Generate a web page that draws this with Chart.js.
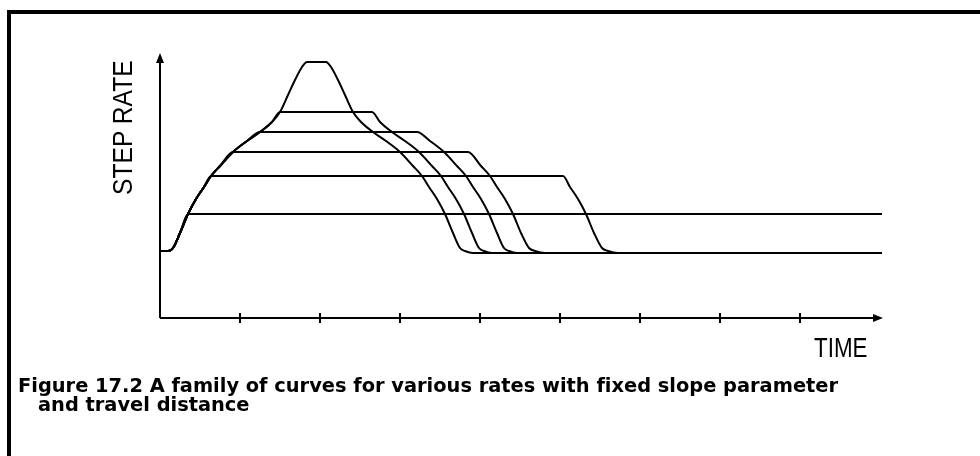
<!DOCTYPE html>
<html>
<head>
<meta charset="utf-8">
<script src="https://cdn.jsdelivr.net/npm/chart.js@4/dist/chart.umd.min.js"></script>
<style>
  body { margin: 0; background: #fff; }
  #wrap { position: relative; width: 980px; height: 456px; overflow: hidden; background: #fff; }
  #frame { position: absolute; left: 7px; top: 10px; width: 980px; height: 460px;
           border-top: 4px solid #000; border-left: 4px solid #000; }
  canvas { position: absolute; left: 0; top: 0; }
  .lbl { position: absolute; left: 0; top: 0; font-family: "Liberation Sans", Arial, sans-serif;
         font-size: 28px; line-height: 28px; white-space: nowrap; color: #000; transform-origin: 0 0; }
  .cap { position: absolute; font-family: "DejaVu Sans", sans-serif; font-weight: bold;
         font-size: 19.4px; line-height: 19px; white-space: nowrap; color: #000;
         font-variant-ligatures: none; }
</style>
</head>
<body>
<div id="wrap">
  <div id="frame"></div>
  <canvas id="chart" width="980" height="456"></canvas>
  <div class="lbl" style="transform: translate(109px,195px) rotate(-90deg) scaleX(0.88);">STEP RATE</div>
  <div class="lbl" style="transform: translate(814px,334px) scaleX(0.8);">TIME</div>
  <div class="cap" style="left:18px; top:376px;">Figure 17.2 A family of curves for various rates with fixed slope parameter</div>
  <div class="cap" style="left:38px; top:395px;">and travel distance</div>
</div>
<script>
// common acceleration curve (time, step rate)
const accelT = [0, 8, 13, 20, 28, 36, 44, 51, 60, 73, 87, 100, 112, 120, 128, 135, 142, 147];
const accelR = [67, 67, 70, 85, 104, 119, 131, 142, 152, 166, 177, 186, 196, 206, 223, 238, 251, 256];

// top speed of each curve
const levels = [256, 206, 186, 166, 142, 104];

// deceleration part of each curve (starts at the end of its flat run)
const decelT1 = [166, 171, 178, 185, 193, 201, 213, 226, 240, 253, 262, 269, 277, 285, 293, 300, 305, 313];
const decelR1 = [256, 251, 238, 223, 206, 196, 186, 177, 166, 152, 142, 131, 119, 104, 85, 70, 67, 65];
const decelT2 = [212, 220, 232, 245, 259, 272, 281, 288, 296, 304, 312, 319, 324, 332];
const decelR2 = [206, 196, 186, 177, 166, 152, 142, 131, 119, 104, 85, 70, 67, 65];
const decelT3 = [257, 270, 284, 297, 306, 313, 321, 329, 337, 344, 349, 357];
const decelR3 = [186, 177, 166, 152, 142, 131, 119, 104, 85, 70, 67, 65];
const decelT4 = [308, 321, 330, 337, 345, 353, 361, 369, 375, 385];
const decelR4 = [166, 152, 142, 131, 119, 104, 85, 70, 67, 65];
const decelT5 = [403, 410, 418, 426, 434, 442, 448, 458];
const decelR5 = [142, 131, 119, 104, 85, 70, 67, 65];
const decelT6 = [722];
const decelR6 = [104];

const baseRate = 65;
const timeEnd = 722;
const timeTicks = [80, 160, 240, 320, 400, 480, 560, 640];

const decels = [
  [decelT1, decelR1], [decelT2, decelR2], [decelT3, decelR3],
  [decelT4, decelR4], [decelT5, decelR5], [decelT6, decelR6]
];

function buildCurve(level, dT, dR) {
  const pts = [];
  accelT.forEach((t, i) => {
    if (accelR[i] <= level) pts.push({ x: t, y: accelR[i] });
  });
  dT.forEach((t, i) => pts.push({ x: t, y: dR[i] }));
  const last = pts[pts.length - 1];
  if (last.x < timeEnd) pts.push({ x: timeEnd, y: last.y === level ? level : baseRate });
  return pts;
}

const datasets = levels.map((lv, i) => ({
  data: buildCurve(lv, decels[i][0], decels[i][1]),
  borderColor: '#000',
  borderWidth: 2,
  pointRadius: 0,
  fill: false,
  cubicInterpolationMode: 'monotone'
}));

// axes with arrows and small cross ticks
const axesPlugin = {
  id: 'axes',
  afterDatasetsDraw(chart) {
    const { ctx, chartArea } = chart;
    const xs = chart.scales.x, ys = chart.scales.y;
    const x0 = xs.getPixelForValue(0), y0 = ys.getPixelForValue(0);
    const xEnd = chartArea.right, yTop = chartArea.top;
    ctx.save();
    ctx.strokeStyle = '#000';
    ctx.fillStyle = '#000';
    ctx.lineWidth = 2;
    ctx.beginPath();
    ctx.moveTo(x0, y0); ctx.lineTo(x0, yTop + 4);
    ctx.moveTo(x0, y0); ctx.lineTo(xEnd - 4, y0);
    timeTicks.forEach(t => {
      const px = Math.round(xs.getPixelForValue(t));
      ctx.moveTo(px, y0 - 5); ctx.lineTo(px, y0 + 5);
    });
    ctx.stroke();
    // arrow heads
    ctx.beginPath();
    ctx.moveTo(x0, yTop); ctx.lineTo(x0 - 4, yTop + 10); ctx.lineTo(x0 + 4, yTop + 10); ctx.closePath();
    ctx.moveTo(xEnd, y0); ctx.lineTo(xEnd - 10, y0 - 4); ctx.lineTo(xEnd - 10, y0 + 4); ctx.closePath();
    ctx.fill();
    ctx.restore();
  }
};

new Chart(document.getElementById('chart'), {
  type: 'line',
  data: { datasets },
  options: {
    responsive: false,
    animation: false,
    layout: { padding: { left: 160, top: 53, right: 97, bottom: 138 } },
    plugins: { legend: { display: false }, tooltip: { enabled: false }, title: { display: false } },
    scales: {
      x: { type: 'linear', min: 0, max: 723, display: false },
      y: { type: 'linear', min: 0, max: 265, display: false }
    }
  },
  plugins: [axesPlugin]
});
</script>
</body>
</html>
